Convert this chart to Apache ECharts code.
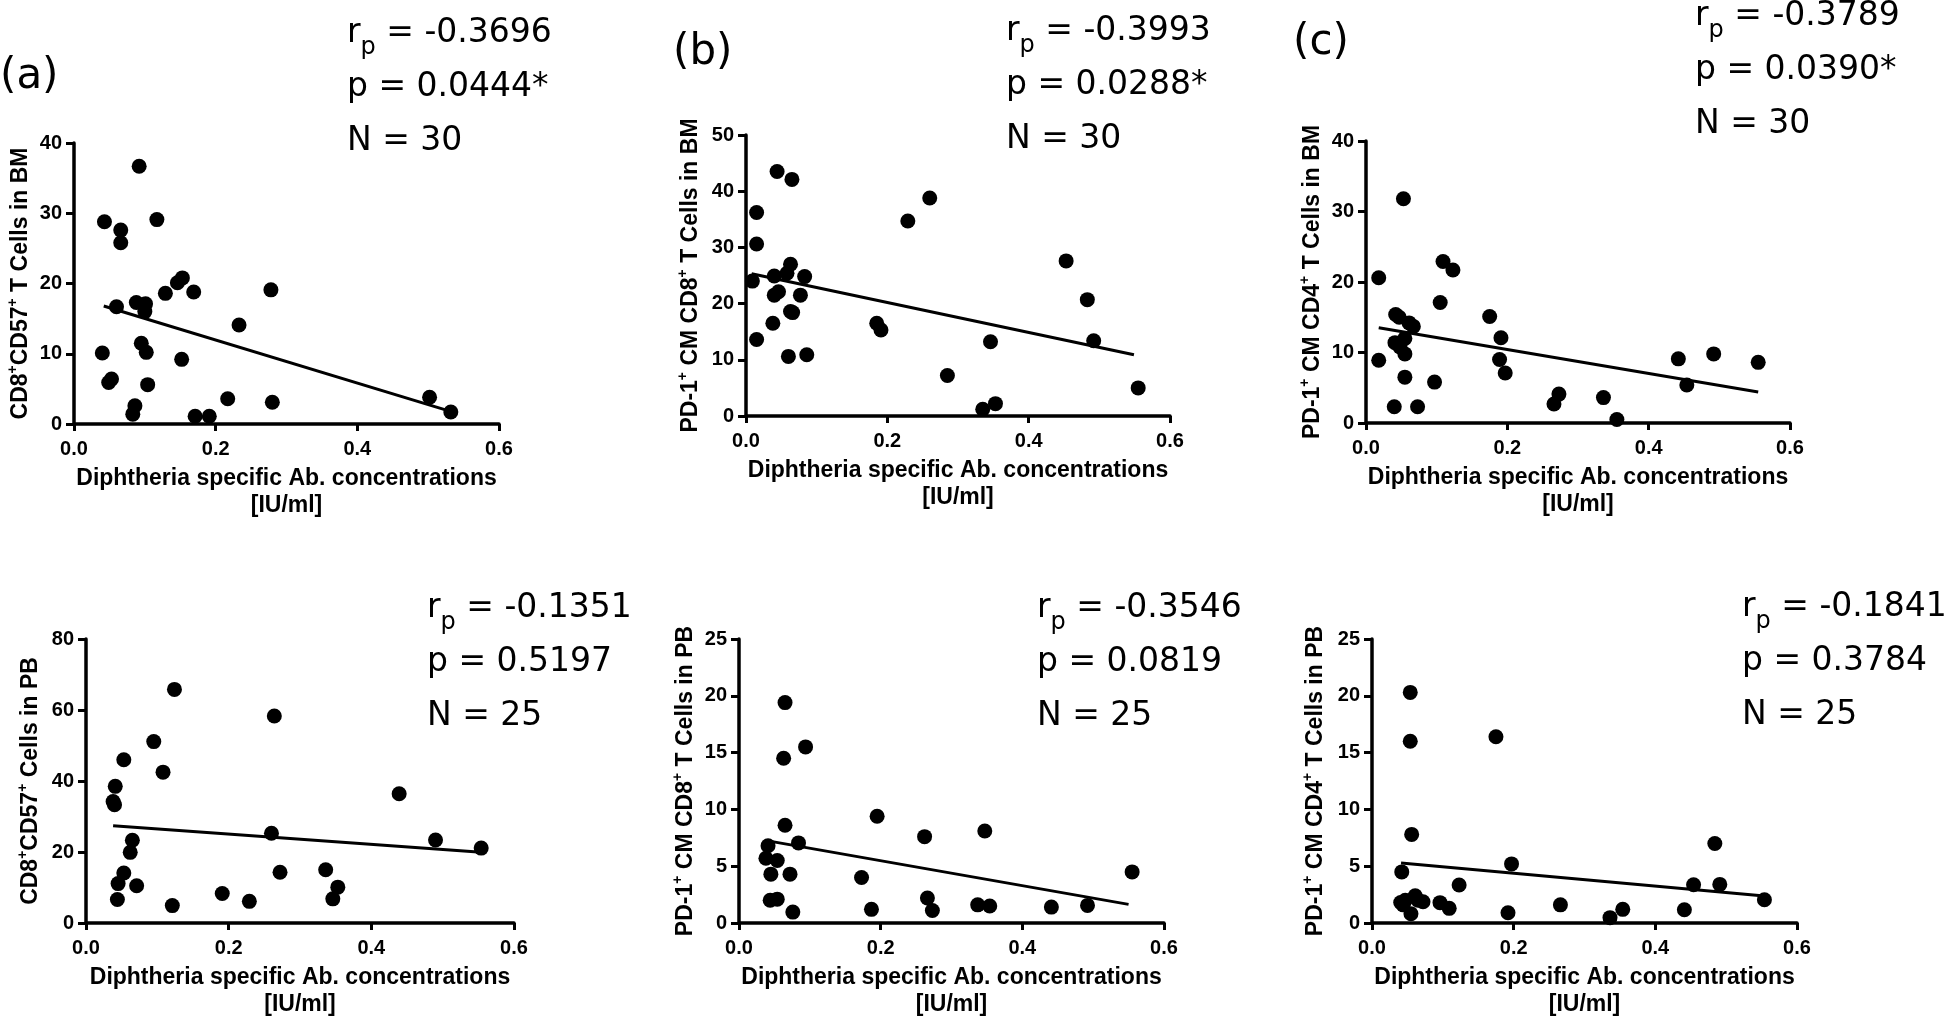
<!DOCTYPE html>
<html><head><meta charset="utf-8">
<script src="https://cdn.jsdelivr.net/npm/echarts@6/dist/echarts.min.js"></script>
<style>html,body{margin:0;padding:0;background:#fff}#c{width:1946px;height:1019px}</style>
</head><body><div id="c"></div>
<script>
// Panel (a)
const aX = [0.043,0.066,0.066,0.060,0.040,0.053,0.049,0.092,0.117,0.088,0.101,0.100,0.095,0.102,0.104,0.086,0.083,0.129,0.146,0.153,0.169,0.152,0.171,0.191,0.217,0.233,0.278,0.280,0.502,0.532];
const aY = [28.8,27.6,25.8,16.7,10.1,6.4,5.9,36.7,29.1,17.3,17.1,16.0,11.5,10.2,5.6,2.6,1.4,18.6,20.1,20.8,18.8,9.2,1.1,1.1,3.6,14.1,19.1,3.1,3.8,1.7];
const aFit = [[0.042,16.8],[0.528,1.9]];
// Panel (b)
const bX = [0.009,0.015,0.015,0.015,0.044,0.065,0.040,0.040,0.046,0.038,0.058,0.063,0.063,0.066,0.083,0.077,0.060,0.086,0.185,0.191,0.229,0.260,0.285,0.335,0.353,0.346,0.453,0.483,0.492,0.555];
const bY = [24.0,36.2,30.6,13.6,43.5,42.1,24.9,21.5,22.1,16.5,25.4,27.0,18.6,18.4,24.8,21.5,10.6,10.9,16.5,15.3,34.7,38.8,7.2,1.2,2.2,13.2,27.6,20.7,13.4,5.0];
const bFit = [[0.008,25.3],[0.549,10.9]];
// Panel (c)
const cX = [0.018,0.018,0.053,0.042,0.047,0.061,0.067,0.055,0.041,0.048,0.055,0.055,0.040,0.073,0.097,0.105,0.109,0.123,0.175,0.191,0.189,0.197,0.266,0.273,0.336,0.355,0.442,0.454,0.492,0.555];
const cY = [20.6,8.9,31.8,15.4,15.0,14.2,13.7,12.0,11.4,10.8,9.8,6.5,2.3,2.3,5.8,17.1,22.9,21.7,15.1,12.1,9.0,7.1,2.7,4.1,3.6,0.5,9.1,5.4,9.8,8.6];
const cFit = [[0.018,13.5],[0.555,4.4]];
// Panel (d)
const dX = [0.041,0.038,0.040,0.053,0.065,0.062,0.053,0.045,0.044,0.071,0.095,0.108,0.124,0.121,0.191,0.229,0.260,0.264,0.272,0.336,0.353,0.346,0.439,0.490,0.554];
const dY = [38.5,34.2,33.3,46.0,23.3,19.9,14.1,11.1,6.6,10.5,51.1,42.5,65.8,4.9,8.3,6.1,25.3,58.3,14.3,15.0,10.1,6.8,36.4,23.4,21.1];
const dFit = [[0.038,27.4],[0.554,19.9]];
// Panel (e)
const eX = [0.041,0.038,0.054,0.045,0.044,0.054,0.065,0.063,0.065,0.084,0.072,0.076,0.094,0.173,0.187,0.195,0.262,0.266,0.273,0.337,0.354,0.347,0.441,0.492,0.555];
const eY = [6.8,5.7,5.5,4.3,2.0,2.1,19.4,14.5,8.6,7.05,4.3,0.96,15.5,4.0,1.2,9.4,7.6,2.2,1.1,1.6,1.5,8.1,1.4,1.55,4.5];
const eFit = [[0.039,7.25],[0.550,1.64]];
// Panel (f)
const fX = [0.042,0.0405,0.047,0.044,0.061,0.065,0.055,0.072,0.054,0.054,0.056,0.096,0.109,0.123,0.175,0.192,0.197,0.266,0.336,0.354,0.441,0.454,0.484,0.491,0.554];
const fY = [4.5,1.8,2.0,1.6,2.4,2.0,0.82,1.87,20.3,16.0,7.8,1.79,1.29,3.35,16.4,0.9,5.2,1.6,0.47,1.2,1.17,3.37,7.0,3.4,2.05];
const fFit = [[0.041,5.28],[0.554,2.38]];

// Axis settings & texts
const yMax = [40,50,40,80,25,25];
const yStep = [10,10,10,20,5,5];
const xTicks = ['0.0','0.2','0.4','0.6'];
const yNames = [
  'CD8{s|+}CD57{s|+} T Cells in BM',
  'PD-1{s|+} CM CD8{s|+} T Cells in BM',
  'PD-1{s|+} CM CD4{s|+} T Cells in BM',
  'CD8{s|+}CD57{s|+} Cells in PB',
  'PD-1{s|+} CM CD8{s|+} T Cells in PB',
  'PD-1{s|+} CM CD4{s|+} T Cells in PB'
];
const xName = 'Diphtheria specific Ab. concentrations\n[IU/ml]';
const statR = ['-0.3696','-0.3993','-0.3789','-0.1351','-0.3546','-0.1841'];
const statP = ['0.0444*','0.0288*','0.0390*','0.5197','0.0819','0.3784'];
const statN = ['30','30','30','25','25','25'];
const panelLabels = ['(a)','(b)','(c)'];

// Layout (pixels)
const grids = [
  {left:74, top:143, width:425, height:281},
  {left:746, top:135, width:424, height:281},
  {left:1366, top:141, width:424, height:282},
  {left:86, top:639, width:428, height:284},
  {left:739, top:639, width:425, height:285},
  {left:1372, top:639, width:425, height:284}
];
const yGap = [36,40,38,40,35,41];
const statPos = [[347,6],[1006,4],[1695,-11],[427,581],[1037,581],[1742,580]];
const labelPos = [[0,56],[673,32],[1293,22]];

const XS = [aX,bX,cX,dX,eX,fX];
const YS = [aY,bY,cY,dY,eY,fY];
const FITS = [aFit,bFit,cFit,dFit,eFit,fFit];

const AXF = 'Liberation Sans, Arial, sans-serif';
const TXF = 'DejaVu Sans, sans-serif';

const option = {
  animation:false,
  backgroundColor:'#fff',
  grid: grids.map(g => Object.assign({containLabel:false}, g)),
  xAxis: grids.map((g,i) => ({
    type:'value', gridIndex:i, min:0, max:0.6, interval:0.2,
    name:xName, nameLocation:'middle', nameGap:41,
    nameTextStyle:{fontFamily:AXF, fontWeight:'bold', fontSize:23, color:'#000', lineHeight:27},
    axisLine:{show:true, onZero:false, lineStyle:{color:'#000', width:3.5}},
    axisTick:{show:true, length:7, lineStyle:{color:'#000', width:3}},
    axisLabel:{color:'#000', fontFamily:AXF, fontWeight:'bold', fontSize:20, margin:15,
      formatter:v => xTicks[Math.round(v/0.2)] },
    splitLine:{show:false}
  })),
  yAxis: grids.map((g,i) => ({
    type:'value', gridIndex:i, min:0, max:yMax[i], interval:yStep[i],
    name:yNames[i], nameLocation:'middle', nameGap:yGap[i],
    nameTextStyle:{fontFamily:AXF, fontWeight:'bold', fontSize:23, color:'#000', lineHeight:30,
      rich:{s:{fontFamily:AXF, fontWeight:'bold', fontSize:14, color:'#000', padding:[0,0,16,0]}}},
    axisLine:{show:true, onZero:false, lineStyle:{color:'#000', width:3.5}},
    axisTick:{show:true, length:8, lineStyle:{color:'#000', width:3}},
    axisLabel:{color:'#000', fontFamily:AXF, fontWeight:'bold', fontSize:20, margin:12},
    splitLine:{show:false}
  })),
  title: statR.map((r,i) => ({
    left:statPos[i][0], top:statPos[i][1], padding:0,
    text:'{m|r}{s|p}{m| = ' + r + '}\n{m|p = ' + statP[i] + '}\n{m|N = ' + statN[i] + '}',
    textStyle:{fontWeight:'normal', rich:{
      m:{fontFamily:TXF, fontSize:33, fontWeight:'normal', lineHeight:54, color:'#000'},
      s:{fontFamily:TXF, fontSize:24, fontWeight:'normal', color:'#000', padding:[30,0,0,0]}
    }}
  })).concat(panelLabels.map((t,i) => ({
    left:labelPos[i][0], top:labelPos[i][1], padding:0, text:t,
    textStyle:{fontFamily:TXF, fontSize:42, fontWeight:'normal', color:'#000'}
  }))),
  series: [].concat(...XS.map((xs,i) => [
    {type:'scatter', xAxisIndex:i, yAxisIndex:i, symbol:'circle', symbolSize:15,
     itemStyle:{color:'#000', opacity:1}, data: xs.map((x,k) => [x, YS[i][k]]), clip:false},
    {type:'line', xAxisIndex:i, yAxisIndex:i, symbol:'none', data: FITS[i],
     lineStyle:{color:'#000', width:3}, silent:true}
  ]))
};
const chart = echarts.init(document.getElementById('c'), null, {renderer:'canvas'});
chart.setOption(option);
</script>
</body></html>
